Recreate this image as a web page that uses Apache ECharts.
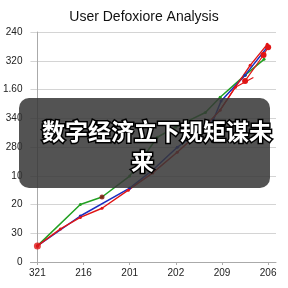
<!DOCTYPE html>
<html><head><meta charset="utf-8">
<script src="https://cdn.jsdelivr.net/npm/echarts@6/dist/echarts.min.js"></script>
<style>html,body{margin:0;padding:0;background:#fff}#c{width:288px;height:288px}</style>
</head><body><div id="c"></div>
<script>
const titleText = "User Defoxiore Analysis";
const overlayLine1 = "数字经济立下规矩谋未";
const overlayLine2 = "来";
const xTickLabels = ["321","216","201","202","209","206"];
const yTickLabels = ["0","30","20","10","280","340","1.60","320","240"];
const greenSeries = [[0,0.56],[0.93,2.0],[1.4,2.26],[2.0,2.99],[2.6,4.34],[3.0,4.7],[3.64,5.2],[3.96,5.73],[4.5,6.5],[4.91,7.05]];
const blueSeries = [[0,0.56],[0.93,1.6],[2.0,2.57],[2.5,3.2],[3.03,3.99],[3.81,4.93],[3.98,5.6],[4.5,6.5],[4.98,7.47]];
const redSeries = [[0,0.56],[0.5,1.15],[0.93,1.55],[1.4,1.87],[1.97,2.5],[2.5,3.1],[3.03,3.82],[3.5,4.5],[3.96,5.28],[4.29,6.08],[4.61,6.84],[4.98,7.57]];
const redSpur = [[3.96,5.28],[4.29,6.08],[4.68,6.42]];
const redTop = [[4.5,6.3],[4.9,7.2],[5.0,7.47]];
const darkRedDots = [[1.4,2.26]];

const chart = echarts.init(document.getElementById('c'), null, {renderer:'canvas'});
const lineBase = (name, data, color, w, sym) => ({
  name, type:'line', data, smooth:false, symbol:'circle', symbolSize:sym,
  showSymbol:true, lineStyle:{color, width:w}, itemStyle:{color}, z:3, silent:true
});
chart.setOption({
  animation:false,
  title:{text:titleText, left:'center', top:5, textStyle:{fontFamily:'Liberation Sans', fontSize:14, fontWeight:'normal', color:'#111'}},
  grid:{left:30, right:12, top:32, bottom:26},
  xAxis:{type:'value', min:-0.15, max:5.17,
    axisLine:{show:true, lineStyle:{color:'#aaa'}},
    splitLine:{show:false},
    axisTick:{show:true, customValues:[0,1,2,3,4,5], length:3, lineStyle:{color:'#aaa'}},
    axisLabel:{customValues:[0,1,2,3,4,5], formatter:v=>xTickLabels[Math.round(v)], color:'#222', fontSize:10, fontFamily:'Liberation Sans', margin:6}
  },
  yAxis:{type:'value', min:0, max:8, interval:1,
    axisLine:{show:true, lineStyle:{color:'#aaa'}},
    axisTick:{show:false},
    splitLine:{show:true, lineStyle:{color:'#d4d4d4'}},
    axisLabel:{formatter:v=>yTickLabels[Math.round(v)], color:'#222', fontSize:10, fontFamily:'Liberation Sans', margin:8}
  },
  series:[
    lineBase('green', greenSeries, '#22a022', 1.5, 3),
    lineBase('blue', blueSeries, '#1c2ec0', 1.5, 3),
    lineBase('red', redSeries, '#e01515', 1.4, 3),
    lineBase('redSpur', redSpur, '#e01515', 1.2, 0),
    lineBase('redTop', redTop, '#e01515', 1.2, 6),
    {type:'scatter', data:darkRedDots, symbolSize:5, itemStyle:{color:'#8a1010'}, z:4},
    {type:'scatter', data:[[0,0.56]], symbolSize:7, itemStyle:{color:'#e01515'}, z:5}
  ],
  graphic:[
    {type:'rect', shape:{x:19, y:98, width:251, height:90, r:10}, style:{fill:'rgba(55,55,55,0.86)'}, z:100},
    {type:'text', x:42, y:131, style:{text:overlayLine1, fill:'#fff', font:'bold 23px "Noto Sans CJK SC"', stroke:'#000', lineWidth:3, textVerticalAlign:'middle'}, z:101},
    {type:'text', x:131, y:161, style:{text:overlayLine2, fill:'#fff', font:'bold 23px "Noto Sans CJK SC"', stroke:'#000', lineWidth:3, textVerticalAlign:'middle'}, z:101}
  ]
});
</script></body></html>
